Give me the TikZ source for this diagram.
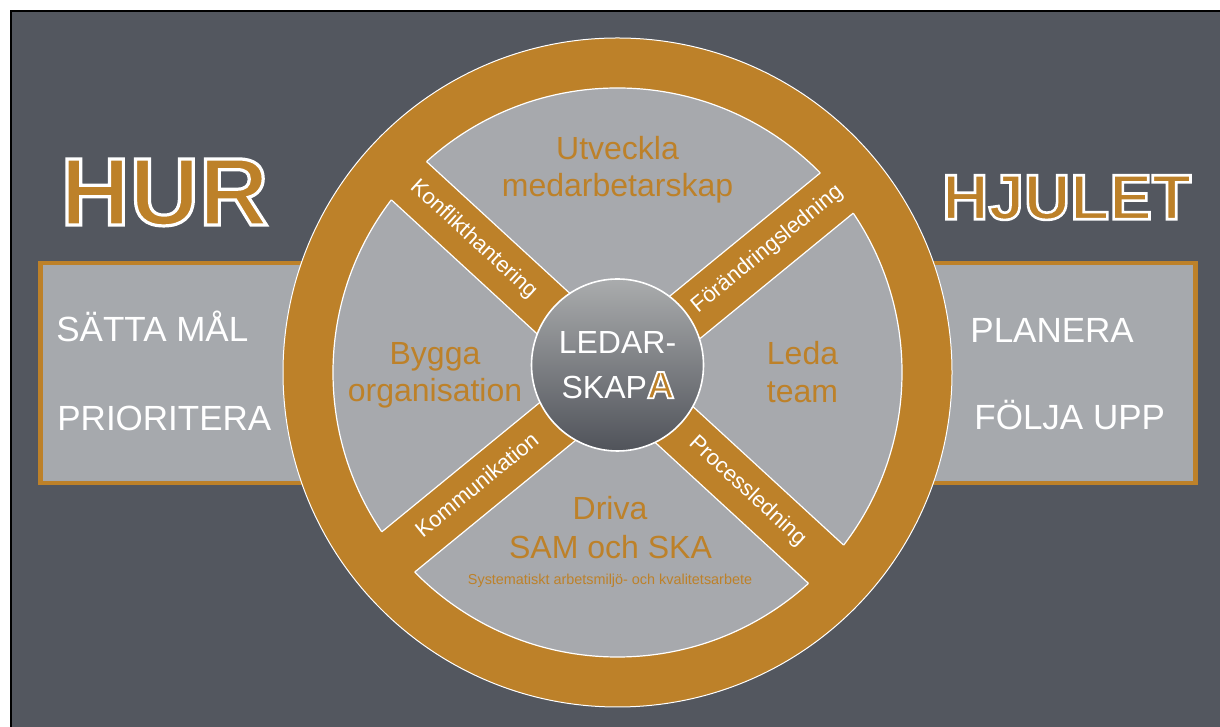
\documentclass[tikz,border=0pt]{standalone}
\usepackage{fontspec}
\setmainfont{Liberation Sans}
\usetikzlibrary{calc}
\definecolor{bgdark}{RGB}{83,87,95}
\definecolor{wheelgold}{RGB}{189,129,41}
\definecolor{sectorgray}{RGB}{167,169,173}
\definecolor{boxgray}{RGB}{166,169,173}
\definecolor{hubtop}{RGB}{170,172,173}
\definecolor{hubbot}{RGB}{80,83,90}
\newcommand\goldoutline[2]{\special{pdf:literal direct 1 1 1 RG #1 w 2 Tr}#2\special{pdf:literal direct 0 Tr}}
\tikzset{
  sidebox/.style={fill=boxgray, draw=wheelgold, line width=2.15pt},
  sidetext/.style={text=white, font=\fontsize{17.5}{20}\selectfont, anchor=base west, inner sep=0pt},
  bigword/.style={text=wheelgold, anchor=base, inner sep=0pt},
  wlabel/.style={text=wheelgold, font=\fontsize{16}{19}\selectfont, anchor=base, inner sep=0pt},
  spokelabel/.style={text=white, font=\fontsize{11}{13}\selectfont, anchor=mid, inner sep=0pt},
  hubtext/.style={text=white, font=\fontsize{16}{19}\selectfont, anchor=base, inner sep=0pt},
  hub/.style={circle, minimum size=86pt, inner sep=0pt, top color=hubtop, bottom color=hubbot, draw=white, line width=0.8pt},
  spokeband/.style={fill=wheelgold},
  spokeedge/.style={draw=white, line width=0.6pt}
}
\begin{document}
\begin{tikzpicture}[x=0.5pt, y=0.5pt]
\fill[white] (0,0) rectangle (1220,727);
\useasboundingbox (0,0) rectangle (1220,727);
\fill[bgdark, draw=black, line width=1pt] (11,-10) rectangle (1235,716);
% side boxes
\draw[sidebox] (40.5,243.8) rectangle (630,464.2);
\draw[sidebox] (605,243.8) rectangle (1195.5,464.2);
% titles
\node[bigword, font=\bfseries\fontsize{48}{48}\selectfont] (hur) at (164.5,502) {\goldoutline{1.6}{HUR}};
\node[bigword, font=\bfseries\fontsize{32}{32}\selectfont] (hjulet) at (1066.7,507.7) {\goldoutline{1.3}{HJULET}};
% side texts
\node[sidetext] (satta) at (56,385.3) {SÄTTA MÅL};
\node[sidetext] (prio) at (57,296.3) {PRIORITERA};
\node[sidetext] (plan) at (970,384.3) {PLANERA};
\node[sidetext] (folja) at (974,297.7) {FÖLJA UPP};
% wheel
\coordinate (C) at (617.5,354.5);
\fill[wheelgold, draw=white, line width=0.5pt] (C) circle (334.5);
\fill[sectorgray, draw=white, line width=0.6pt] (C) circle (284.5);
\foreach \a in {39.3,137.4} {
  \begin{scope}[shift={(617.5,354.5)}, rotate=\a]
    \fill[spokeband] (-310,-26) -- (310,-26) -- (310,26) -- (-310,26) -- cycle;
    \draw[spokeedge] (-283.3,26) -- (283.3,26);
    \draw[spokeedge] (-283.3,-26) -- (283.3,-26);
  \end{scope}
}
% hub
\node[hub] (hub) at (617.5,362) {};
\node[hubtext] (ledar) at (617.5,373.7) {LEDAR-};
\node[hubtext] (skapa) at (618,328.7) {SKAP\textcolor{wheelgold}{\bfseries\fontsize{19}{19}\selectfont\goldoutline{0.9}{A}}};
% sector labels
\node[wlabel] (utv1) at (617.5,567) {Utveckla};
\node[wlabel] (utv2) at (617.5,530.3) {medarbetarskap};
\node[wlabel] (byg1) at (435,362) {Bygga};
\node[wlabel] (byg2) at (435,325.3) {organisation};
\node[wlabel] (led1) at (802.5,362) {Leda};
\node[wlabel] (led2) at (802.5,324.3) {team};
\node[wlabel] (dri1) at (610,207) {Driva};
\node[wlabel] (dri2) at (610.5,168.7) {SAM och SKA};
\node[wlabel, font=\fontsize{7.2}{9}\selectfont] (dri3) at (610,142) {Systematiskt arbetsmiljö- och kvalitetsarbete};
% spoke labels
\node[spokelabel, rotate=-42.6] (konf) at ($(C)+(137.4:196)$) {Konflikthantering};
\node[spokelabel, rotate=39.3] (forand) at ($(C)+(39.3:194)$) {Förändringsledning};
\node[spokelabel, rotate=39.3] (komm) at ($(C)+(219.3:180)$) {Kommunikation};
\node[spokelabel, rotate=-42.6] (proc) at ($(C)+(317.4:176)$) {Processledning};
\end{tikzpicture}
\end{document}
